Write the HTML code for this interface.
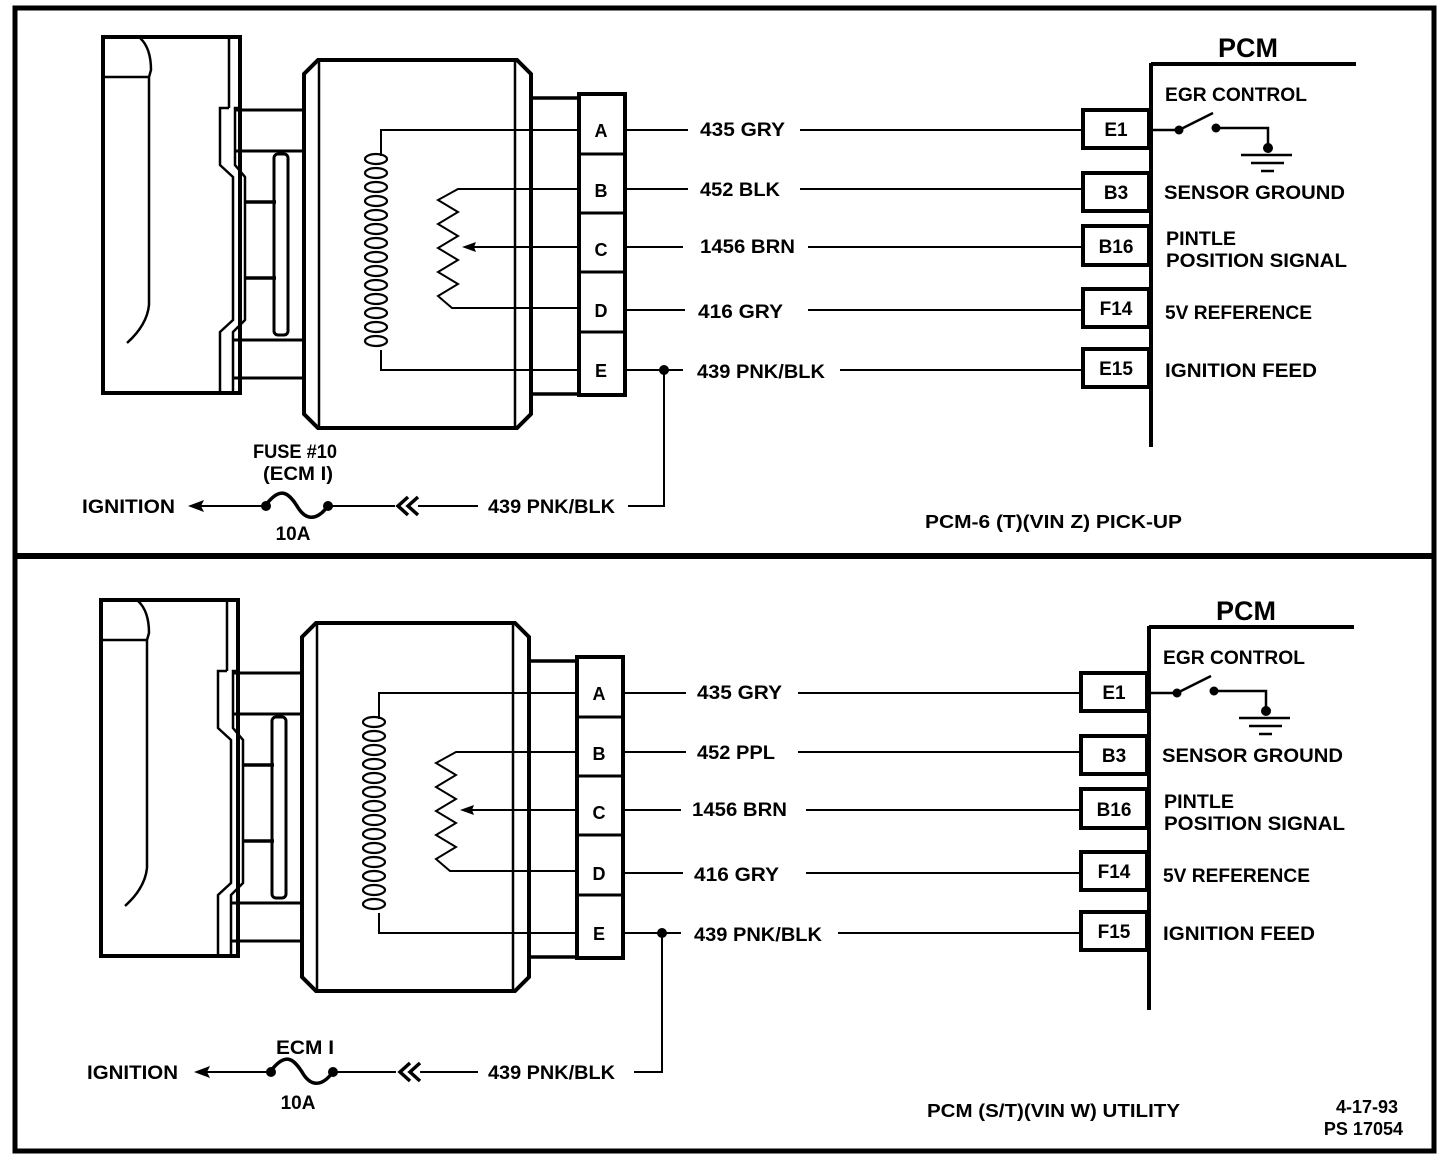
<!DOCTYPE html>
<html><head><meta charset="utf-8"><style>
html,body{margin:0;padding:0;background:#fff;}
svg{display:block;}
text{font-family:"Liberation Sans",sans-serif;font-weight:bold;fill:#000;}
</style></head><body>
<svg width="1440" height="1160" viewBox="0 0 1440 1160" xmlns="http://www.w3.org/2000/svg">
<!-- frame -->
<rect x="15" y="8" width="1419" height="1143" fill="none" stroke="#000" stroke-width="5"/>
<line x1="15" y1="556" x2="1434" y2="556" stroke="#000" stroke-width="6"/>

<g id="top" fill="none" stroke="#000">
 <!-- left block -->
 <path d="M103,37 H240 V393 H103 Z" stroke-width="4"/>
 <line x1="229" y1="37" x2="229" y2="108" stroke-width="2.5"/>
 <line x1="104" y1="77" x2="149" y2="77" stroke-width="2.5"/>
 <path d="M140,38 Q151,48 151,70 L149,77 V305 Q147,325 127,343" stroke-width="2.5"/>
 <!-- stepped strip -->
 <path d="M229,108 H220 V165 L233,177 V320 L220,332 V393" stroke-width="2.5"/>
 <path d="M240,108 H235 V165 L245,177 V320 L233,332 V393" stroke-width="2.5"/>
 <!-- bars -->
 <path d="M235,110 H304 M235,151 H304 M233,340 H304 M233,378 H304" stroke-width="3"/>
 <path d="M245,202 H276 M245,278 H276" stroke-width="3.5"/>
 <rect x="274" y="154" width="14" height="181" rx="4" stroke-width="3"/>
 <!-- body -->
 <path d="M318,60 H517 L531,74 V414 L517,428 H318 L304,414 V74 Z" stroke-width="4"/>
 <line x1="319" y1="62" x2="319" y2="426" stroke-width="2.5"/>
 <line x1="515" y1="62" x2="515" y2="426" stroke-width="2.5"/>
 <!-- neck -->
 <path d="M531,98 H578 M531,394 H578" stroke-width="3.5"/>
 <!-- connector -->
 <rect x="579" y="94" width="46" height="301" stroke-width="4"/>
 <path d="M579,154 H625 M579,213 H625 M579,272 H625 M579,332 H625" stroke-width="3"/>
 <!-- coil -->
 <path d="M579,130 H381 V156 M381,350 V370 H579" stroke-width="2"/>
 <g stroke-width="2.2">
  <ellipse cx="376" cy="159" rx="11" ry="5"/><ellipse cx="376" cy="173" rx="11" ry="5"/>
  <ellipse cx="376" cy="187" rx="11" ry="5"/><ellipse cx="376" cy="201" rx="11" ry="5"/>
  <ellipse cx="376" cy="215" rx="11" ry="5"/><ellipse cx="376" cy="229" rx="11" ry="5"/>
  <ellipse cx="376" cy="243" rx="11" ry="5"/><ellipse cx="376" cy="257" rx="11" ry="5"/>
  <ellipse cx="376" cy="271" rx="11" ry="5"/><ellipse cx="376" cy="285" rx="11" ry="5"/>
  <ellipse cx="376" cy="299" rx="11" ry="5"/><ellipse cx="376" cy="313" rx="11" ry="5"/>
  <ellipse cx="376" cy="327" rx="11" ry="5"/><ellipse cx="376" cy="341" rx="11" ry="5"/>
 </g>
 <!-- resistor -->
 <path d="M579,189 H458 L438,200 L458,212 L438,224 L458,236 L438,248 L458,260 L438,272 L458,284 L438,296 L452,308 H579" stroke-width="2"/>
 <line x1="579" y1="247" x2="470" y2="247" stroke-width="2"/>
 <path d="M462,247 L476,242 L474,247 L476,252 Z" fill="#000" stroke="none"/>
 <!-- wires -->
 <path d="M625,130 H688 M800,130 H1083" stroke-width="2"/>
 <path d="M625,189 H688 M800,189 H1083" stroke-width="2"/>
 <path d="M625,247 H683 M808,247 H1083" stroke-width="2"/>
 <path d="M625,310 H685 M808,310 H1083" stroke-width="2"/>
 <path d="M625,370 H683 M840,370 H1083" stroke-width="2"/>
 <circle cx="664" cy="370" r="5" fill="#000" stroke="none"/>
 <path d="M664,370 V506 H628" stroke-width="2"/>
 <!-- PCM -->
 <path d="M1151,63 V447 M1151,64 H1356" stroke-width="4"/>
 <rect x="1083" y="110" width="66" height="38" stroke-width="4"/>
 <rect x="1083" y="173" width="66" height="38" stroke-width="4"/>
 <rect x="1083" y="226" width="66" height="39" stroke-width="4"/>
 <rect x="1083" y="289" width="66" height="38" stroke-width="4"/>
 <rect x="1083" y="349" width="66" height="38" stroke-width="4"/>
 <!-- switch -->
 <path d="M1151,130 H1179 L1213,113 M1216,128 H1268 V146" stroke-width="2.5"/>
 <circle cx="1179" cy="130" r="4.5" fill="#000" stroke="none"/>
 <circle cx="1216" cy="128" r="4.5" fill="#000" stroke="none"/>
 <circle cx="1268" cy="148" r="5" fill="#000" stroke="none"/>
 <path d="M1241,155 H1292 M1251,163 H1284 M1261,171 H1274" stroke-width="2.5"/>
 <!-- fuse row -->
 <path d="M478,506 H418 M395,506 H328 M265,506 H200" stroke-width="2"/>
 <path d="M188,506 L204,500 L201,506 L204,512 Z" fill="#000" stroke="none"/>
 <path d="M265,506 C280,486 288,492 297,506 C305,520 316,522 328,506" stroke-width="3.5"/>
 <circle cx="266" cy="506" r="5" fill="#000" stroke="none"/>
 <circle cx="328" cy="506" r="5" fill="#000" stroke="none"/>
 <path d="M408,497 L398,506 L408,515 M418,497 L408,506 L418,515" stroke-width="3.5"/>
</g>
<g font-size="19">
 <text x="1218" y="57" font-size="27">PCM</text>
 <text x="1165" y="101" textLength="142" lengthAdjust="spacingAndGlyphs">EGR CONTROL</text>
 <text x="1164" y="199" textLength="181" lengthAdjust="spacingAndGlyphs">SENSOR GROUND</text>
 <text x="1166" y="245" textLength="70" lengthAdjust="spacingAndGlyphs">PINTLE</text>
 <text x="1166" y="267" textLength="181" lengthAdjust="spacingAndGlyphs">POSITION SIGNAL</text>
 <text x="1165" y="319" textLength="147" lengthAdjust="spacingAndGlyphs">5V REFERENCE</text>
 <text x="1165" y="377" textLength="152" lengthAdjust="spacingAndGlyphs">IGNITION FEED</text>
 <text x="1116" y="136" text-anchor="middle">E1</text>
 <text x="1116" y="199" text-anchor="middle">B3</text>
 <text x="1116" y="253" text-anchor="middle">B16</text>
 <text x="1116" y="315" text-anchor="middle">F14</text>
 <text x="1116" y="375" text-anchor="middle">E15</text>
 <text x="601" y="137" text-anchor="middle" font-size="18">A</text>
 <text x="601" y="197" text-anchor="middle" font-size="18">B</text>
 <text x="601" y="256" text-anchor="middle" font-size="18">C</text>
 <text x="601" y="317" text-anchor="middle" font-size="18">D</text>
 <text x="601" y="377" text-anchor="middle" font-size="18">E</text>
 <text x="700" y="136" textLength="85" lengthAdjust="spacingAndGlyphs">435 GRY</text>
 <text x="700" y="196" textLength="80" lengthAdjust="spacingAndGlyphs">452 BLK</text>
 <text x="700" y="253" textLength="95" lengthAdjust="spacingAndGlyphs">1456 BRN</text>
 <text x="698" y="318" textLength="85" lengthAdjust="spacingAndGlyphs">416 GRY</text>
 <text x="697" y="378" textLength="128" lengthAdjust="spacingAndGlyphs">439 PNK/BLK</text>
 <text x="488" y="513" textLength="127" lengthAdjust="spacingAndGlyphs">439 PNK/BLK</text>
 <text x="82" y="513" textLength="93" lengthAdjust="spacingAndGlyphs">IGNITION</text>
 <text x="295" y="458" text-anchor="middle" textLength="84" lengthAdjust="spacingAndGlyphs">FUSE #10</text>
 <text x="298" y="480" text-anchor="middle" textLength="70" lengthAdjust="spacingAndGlyphs">(ECM I)</text>
 <text x="293" y="540" text-anchor="middle">10A</text>
 <text x="925" y="528" font-size="18" textLength="257" lengthAdjust="spacingAndGlyphs">PCM-6  (T)(VIN Z) PICK-UP</text>
</g>

<!-- bottom panel -->
<g transform="translate(-2,563)">
<g fill="none" stroke="#000">
 <path d="M103,37 H240 V393 H103 Z" stroke-width="4"/>
 <line x1="229" y1="37" x2="229" y2="108" stroke-width="2.5"/>
 <line x1="104" y1="77" x2="149" y2="77" stroke-width="2.5"/>
 <path d="M140,38 Q151,48 151,70 L149,77 V305 Q147,325 127,343" stroke-width="2.5"/>
 <path d="M229,108 H220 V165 L233,177 V320 L220,332 V393" stroke-width="2.5"/>
 <path d="M240,108 H235 V165 L245,177 V320 L233,332 V393" stroke-width="2.5"/>
 <path d="M235,110 H304 M235,151 H304 M233,340 H304 M233,378 H304" stroke-width="3"/>
 <path d="M245,202 H276 M245,278 H276" stroke-width="3.5"/>
 <rect x="274" y="154" width="14" height="181" rx="4" stroke-width="3"/>
 <path d="M318,60 H517 L531,74 V414 L517,428 H318 L304,414 V74 Z" stroke-width="4"/>
 <line x1="319" y1="62" x2="319" y2="426" stroke-width="2.5"/>
 <line x1="515" y1="62" x2="515" y2="426" stroke-width="2.5"/>
 <path d="M531,98 H578 M531,394 H578" stroke-width="3.5"/>
 <rect x="579" y="94" width="46" height="301" stroke-width="4"/>
 <path d="M579,154 H625 M579,213 H625 M579,272 H625 M579,332 H625" stroke-width="3"/>
 <path d="M579,130 H381 V156 M381,350 V370 H579" stroke-width="2"/>
 <g stroke-width="2.2">
  <ellipse cx="376" cy="159" rx="11" ry="5"/><ellipse cx="376" cy="173" rx="11" ry="5"/>
  <ellipse cx="376" cy="187" rx="11" ry="5"/><ellipse cx="376" cy="201" rx="11" ry="5"/>
  <ellipse cx="376" cy="215" rx="11" ry="5"/><ellipse cx="376" cy="229" rx="11" ry="5"/>
  <ellipse cx="376" cy="243" rx="11" ry="5"/><ellipse cx="376" cy="257" rx="11" ry="5"/>
  <ellipse cx="376" cy="271" rx="11" ry="5"/><ellipse cx="376" cy="285" rx="11" ry="5"/>
  <ellipse cx="376" cy="299" rx="11" ry="5"/><ellipse cx="376" cy="313" rx="11" ry="5"/>
  <ellipse cx="376" cy="327" rx="11" ry="5"/><ellipse cx="376" cy="341" rx="11" ry="5"/>
 </g>
 <path d="M579,189 H458 L438,200 L458,212 L438,224 L458,236 L438,248 L458,260 L438,272 L458,284 L438,296 L452,308 H579" stroke-width="2"/>
 <line x1="579" y1="247" x2="470" y2="247" stroke-width="2"/>
 <path d="M462,247 L476,242 L474,247 L476,252 Z" fill="#000" stroke="none"/>
 <path d="M625,130 H688 M800,130 H1083" stroke-width="2"/>
 <path d="M625,189 H688 M800,189 H1083" stroke-width="2"/>
 <path d="M625,247 H683 M808,247 H1083" stroke-width="2"/>
 <path d="M625,310 H685 M808,310 H1083" stroke-width="2"/>
 <path d="M625,370 H683 M840,370 H1083" stroke-width="2"/>
 <circle cx="664" cy="370" r="5" fill="#000" stroke="none"/>
 <path d="M664,370 V509 H636" stroke-width="2"/>
 <path d="M1151,63 V447 M1151,64 H1356" stroke-width="4"/>
 <rect x="1083" y="110" width="66" height="38" stroke-width="4"/>
 <rect x="1083" y="173" width="66" height="38" stroke-width="4"/>
 <rect x="1083" y="226" width="66" height="39" stroke-width="4"/>
 <rect x="1083" y="289" width="66" height="38" stroke-width="4"/>
 <rect x="1083" y="349" width="66" height="38" stroke-width="4"/>
 <path d="M1151,130 H1179 L1213,113 M1216,128 H1268 V146" stroke-width="2.5"/>
 <circle cx="1179" cy="130" r="4.5" fill="#000" stroke="none"/>
 <circle cx="1216" cy="128" r="4.5" fill="#000" stroke="none"/>
 <circle cx="1268" cy="148" r="5" fill="#000" stroke="none"/>
 <path d="M1241,155 H1292 M1251,163 H1284 M1261,171 H1274" stroke-width="2.5"/>
 <path d="M480,509 H422 M398,509 H335 M272,509 H208" stroke-width="2"/>
 <path d="M196,509 L212,503 L209,509 L212,515 Z" fill="#000" stroke="none"/>
 <path d="M272,509 C287,489 295,495 304,509 C312,523 323,525 335,509" stroke-width="3.5"/>
 <circle cx="273" cy="509" r="5" fill="#000" stroke="none"/>
 <circle cx="335" cy="509" r="5" fill="#000" stroke="none"/>
 <path d="M412,500 L402,509 L412,518 M422,500 L412,509 L422,518" stroke-width="3.5"/>
</g>
<g font-size="19">
 <text x="1218" y="57" font-size="27">PCM</text>
 <text x="1165" y="101" textLength="142" lengthAdjust="spacingAndGlyphs">EGR CONTROL</text>
 <text x="1164" y="199" textLength="181" lengthAdjust="spacingAndGlyphs">SENSOR GROUND</text>
 <text x="1166" y="245" textLength="70" lengthAdjust="spacingAndGlyphs">PINTLE</text>
 <text x="1166" y="267" textLength="181" lengthAdjust="spacingAndGlyphs">POSITION SIGNAL</text>
 <text x="1165" y="319" textLength="147" lengthAdjust="spacingAndGlyphs">5V REFERENCE</text>
 <text x="1165" y="377" textLength="152" lengthAdjust="spacingAndGlyphs">IGNITION FEED</text>
 <text x="1116" y="136" text-anchor="middle">E1</text>
 <text x="1116" y="199" text-anchor="middle">B3</text>
 <text x="1116" y="253" text-anchor="middle">B16</text>
 <text x="1116" y="315" text-anchor="middle">F14</text>
 <text x="1116" y="375" text-anchor="middle">F15</text>
 <text x="601" y="137" text-anchor="middle" font-size="18">A</text>
 <text x="601" y="197" text-anchor="middle" font-size="18">B</text>
 <text x="601" y="256" text-anchor="middle" font-size="18">C</text>
 <text x="601" y="317" text-anchor="middle" font-size="18">D</text>
 <text x="601" y="377" text-anchor="middle" font-size="18">E</text>
 <text x="699" y="136" textLength="85" lengthAdjust="spacingAndGlyphs">435 GRY</text>
 <text x="699" y="196" textLength="78" lengthAdjust="spacingAndGlyphs">452 PPL</text>
 <text x="694" y="253" textLength="95" lengthAdjust="spacingAndGlyphs">1456 BRN</text>
 <text x="696" y="318" textLength="85" lengthAdjust="spacingAndGlyphs">416 GRY</text>
 <text x="696" y="378" textLength="128" lengthAdjust="spacingAndGlyphs">439 PNK/BLK</text>
 <text x="490" y="516" textLength="127" lengthAdjust="spacingAndGlyphs">439 PNK/BLK</text>
 <text x="89" y="516" textLength="91" lengthAdjust="spacingAndGlyphs">IGNITION</text>
 <text x="307" y="491" text-anchor="middle" textLength="58" lengthAdjust="spacingAndGlyphs">ECM I</text>
 <text x="300" y="546" text-anchor="middle">10A</text>
 <text x="929" y="554" font-size="18" textLength="253" lengthAdjust="spacingAndGlyphs">PCM (S/T)(VIN W) UTILITY</text>
 <text x="1400" y="550" text-anchor="end" font-size="18">4-17-93</text>
 <text x="1405" y="572" text-anchor="end" font-size="18">PS 17054</text>
</g>
</g>
</svg>
</body></html>
